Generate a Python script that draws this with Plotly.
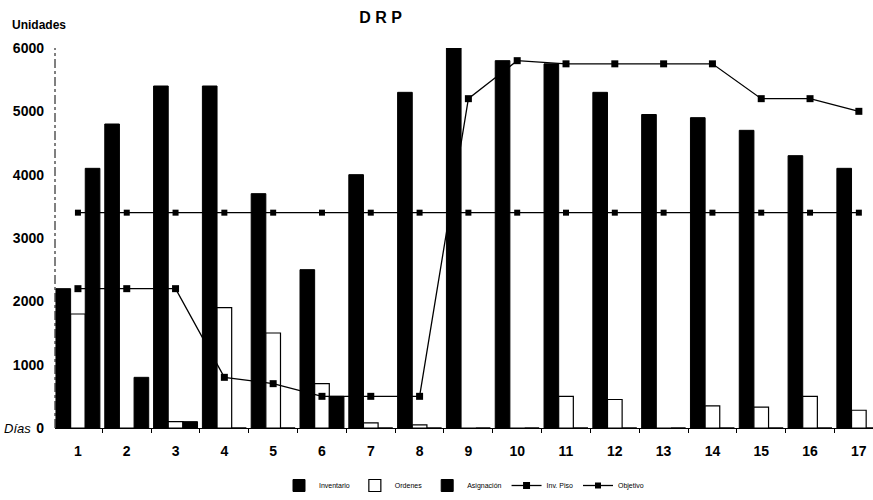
import plotly.graph_objects as go

dias = list(range(1, 18))
inventario = [2200, 4800, 5400, 5400, 3700, 2500, 4000, 5300, 6000, 5800, 5750, 5300, 4950, 4900, 4700, 4300, 4100]
ordenes = [1800, 0, 100, 1900, 1500, 700, 80, 50, 0, 0, 500, 450, 0, 350, 330, 500, 280]
asignacion = [4100, 800, 100, 0, 0, 500, 0, 0, 0, 0, 0, 0, 0, 0, 0, 0, 0]
inv_piso = [2200, 2200, 2200, 800, 700, 500, 500, 500, 5200, 5800, 5750, 5750, 5750, 5750, 5200, 5200, 5000]
objetivo = [3400] * 17
y_ticks = [0, 1000, 2000, 3000, 4000, 5000, 6000]

FONT = "Liberation Sans, Arial, sans-serif"
X_RANGE = [0.53, 17.29]
limites = [d + 0.5 for d in dias[:-1]]

fig = go.Figure()
fig.add_trace(go.Bar(x=dias, y=inventario, name="Inventario",
                     marker=dict(color="black", line=dict(color="black", width=1))))
fig.add_trace(go.Bar(x=dias, y=ordenes, name="Ordenes",
                     marker=dict(color="white", line=dict(color="black", width=1.2))))
fig.add_trace(go.Bar(x=dias, y=asignacion, name="Asignación",
                     marker=dict(color="black", line=dict(color="black", width=1))))
fig.add_trace(go.Scatter(x=dias, y=inv_piso, name="Inv. Piso", mode="lines+markers",
                         line=dict(color="black", width=1.3),
                         marker=dict(symbol="square", size=7, color="black"),
                         cliponaxis=False))
fig.add_trace(go.Scatter(x=dias, y=objetivo, name="Objetivo", mode="lines+markers",
                         line=dict(color="black", width=1.3),
                         marker=dict(symbol="square", size=6, color="black"),
                         cliponaxis=False))
# invisible helper so the group-boundary tick axis is drawn
fig.add_trace(go.Scatter(x=limites, y=[0] * len(limites), xaxis="x2", mode="none",
                         showlegend=False, hoverinfo="skip"))

fig.update_layout(
    width=873, height=500,
    margin=dict(l=55, r=0, t=48, b=71),
    paper_bgcolor="white", plot_bgcolor="white",
    barmode="group", bargap=0.1, bargroupgap=0,
    font=dict(family=FONT, color="black"),
    title=dict(text="D R P", x=0.436, y=0.966, xanchor="center", yanchor="middle",
               font=dict(family=FONT, size=16, weight="bold", color="black")),
    legend=dict(orientation="h", x=0.5, y=-0.152, xanchor="center", yanchor="middle",
                font=dict(family=FONT, size=7, color="black"), itemwidth=30,
                bgcolor="rgba(0,0,0,0)"),
    showlegend=True,
    xaxis=dict(
        range=X_RANGE,
        tickmode="array", tickvals=dias, ticktext=[str(d) for d in dias],
        ticks="", ticklabelstandoff=10,
        tickfont=dict(family=FONT, size=14, weight="bold", color="black"),
        showline=True, linecolor="black", linewidth=1,
        showgrid=False, zeroline=False,
    ),
    xaxis2=dict(overlaying="x", anchor="y", side="bottom", range=X_RANGE,
                tickmode="array", tickvals=limites,
                showticklabels=False, ticks="outside", ticklen=4,
                tickcolor="black", tickwidth=1, showgrid=False, zeroline=False,
                showline=False),
    yaxis=dict(
        range=[0, 6000],
        tickmode="array", tickvals=y_ticks, ticktext=[str(v) for v in y_ticks],
        ticks="", ticklabelstandoff=10,
        tickfont=dict(family=FONT, size=14, weight="bold", color="black"),
        showline=False, showgrid=False, zeroline=False,
    ),
)

fig.add_shape(type="line", xref="paper", yref="paper", x0=0, x1=0, y0=0, y1=1,
              line=dict(color="black", width=1, dash="dashdot"))

fig.add_annotation(text="Unidades", xref="paper", yref="paper", x=-0.055, y=1.06,
                   xanchor="left", yanchor="middle", showarrow=False,
                   font=dict(family=FONT, size=12, weight="bold", color="black"))
fig.add_annotation(text="Días", xref="paper", yref="paper", x=-0.027, y=0,
                   xanchor="right", yanchor="middle", showarrow=False,
                   font=dict(family=FONT, size=13, style="italic", color="black"))

fig.write_html("out.html")
